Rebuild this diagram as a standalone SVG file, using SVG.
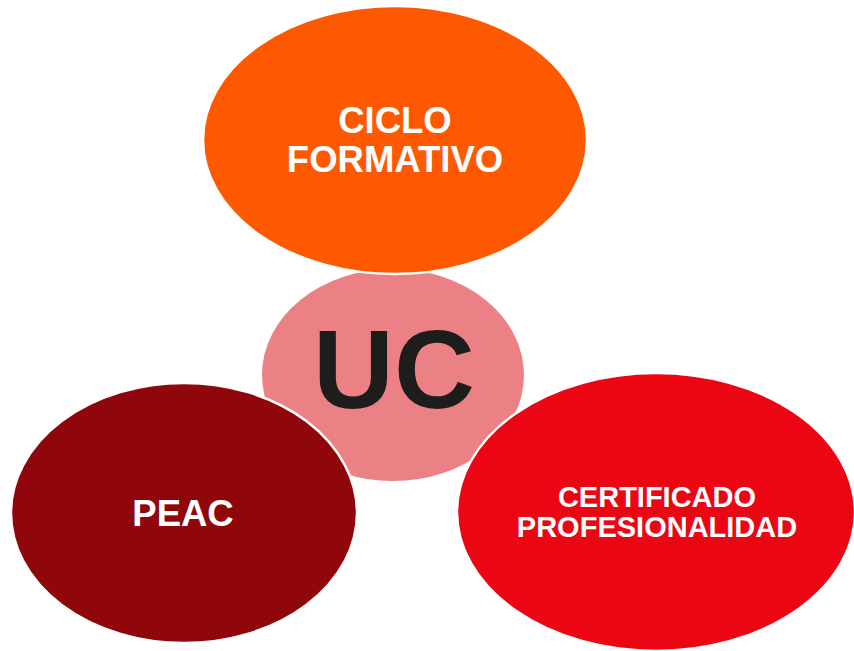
<svg xmlns="http://www.w3.org/2000/svg" width="854" height="651" viewBox="0 0 854 651">
<style>
.n{stroke:#FFFFFF;stroke-width:2.5}
.t{font-family:"Liberation Sans",Arial,sans-serif;font-weight:bold;text-anchor:middle;fill:#FFFFFF}
</style>
<rect width="854" height="651" fill="#FFFFFF"/>
<g id="uc">
<ellipse cx="393" cy="375" rx="131" ry="106" fill="#EB8085"/>
<text class="t" x="394" y="408" font-size="112" style="fill:#1D1D1B">UC</text>
</g>
<g id="ciclo">
<ellipse class="n" cx="395" cy="140" rx="192" ry="134" fill="#FE5900"/>
<text class="t" x="395" y="133" font-size="36.5">CICLO</text>
<text class="t" x="395" y="172" font-size="36.5">FORMATIVO</text>
</g>
<g id="peac">
<ellipse class="n" cx="184" cy="513" rx="173" ry="130" fill="#8F060B"/>
<text class="t" x="183" y="526" font-size="36.5">PEAC</text>
</g>
<g id="certificado">
<ellipse class="n" cx="656" cy="512" rx="199" ry="139" fill="#EC0513"/>
<text class="t" x="657" y="507" font-size="29">CERTIFICADO</text>
<text class="t" x="657" y="537" font-size="29">PROFESIONALIDAD</text>
</g>
<g id="connectors"/>
</svg>
